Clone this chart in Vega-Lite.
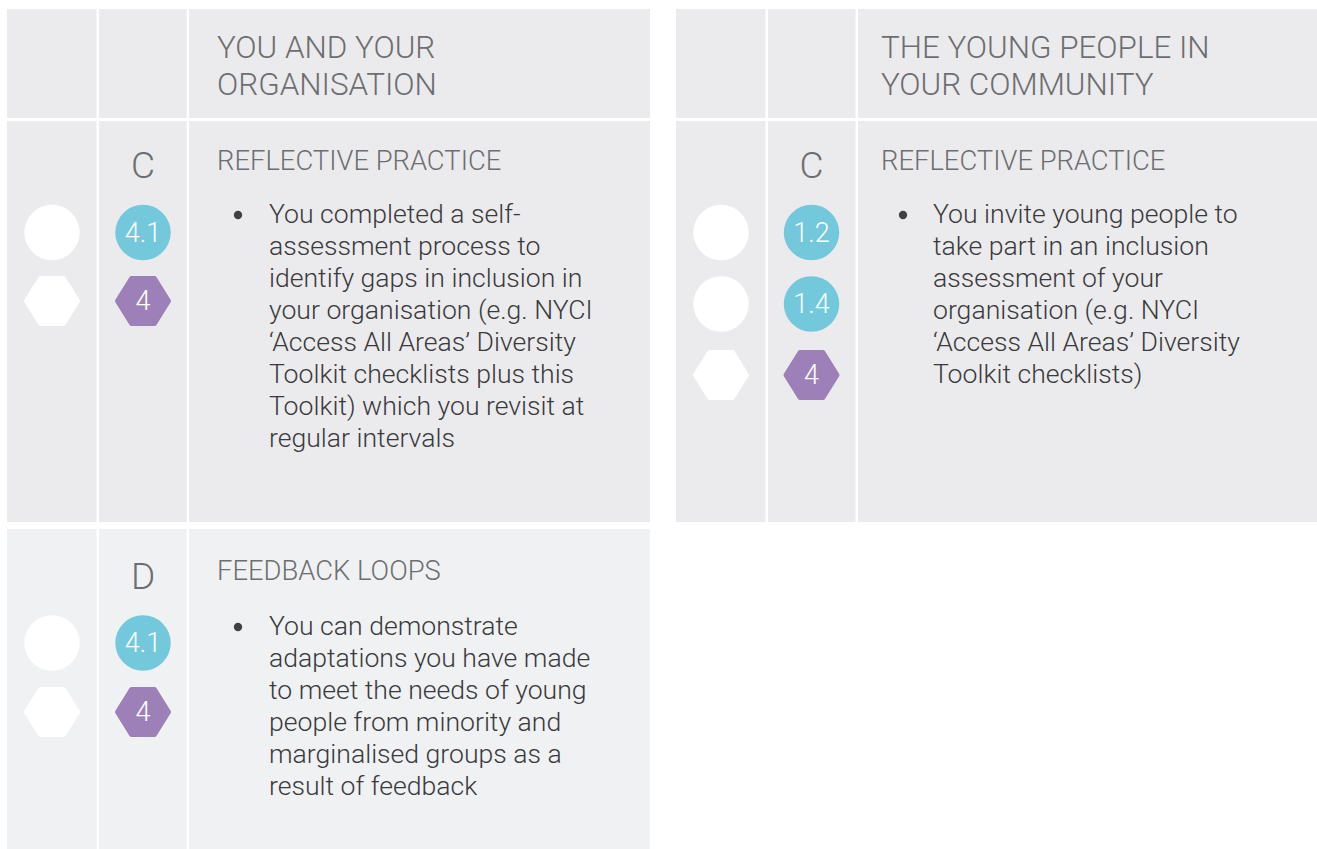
{
  "$schema": "https://vega.github.io/schema/vega-lite/v6.json",
  "width": 1317,
  "height": 849,
  "padding": 0,
  "autosize": {"type": "none"},
  "background": "#ffffff",
  "config": {"view": {"stroke": null}},
  "datasets": {
    "cells": [
      {"x0": 7, "x1": 96.5, "y0": 9, "y1": 118, "tone": "grey"},
      {"x0": 99, "x1": 186.7, "y0": 9, "y1": 118, "tone": "grey"},
      {"x0": 189, "x1": 650, "y0": 9, "y1": 118, "tone": "grey"},
      {"x0": 7, "x1": 96.5, "y0": 121, "y1": 522, "tone": "grey"},
      {"x0": 99, "x1": 186.7, "y0": 121, "y1": 522, "tone": "grey"},
      {"x0": 189, "x1": 650, "y0": 121, "y1": 522, "tone": "grey"},
      {"x0": 7, "x1": 96.5, "y0": 529, "y1": 849, "tone": "light"},
      {"x0": 99, "x1": 186.7, "y0": 529, "y1": 849, "tone": "light"},
      {"x0": 189, "x1": 650, "y0": 529, "y1": 849, "tone": "light"},
      {"x0": 676, "x1": 765.5, "y0": 9, "y1": 118, "tone": "grey"},
      {"x0": 768, "x1": 855.5, "y0": 9, "y1": 118, "tone": "grey"},
      {"x0": 858, "x1": 1317, "y0": 9, "y1": 118, "tone": "grey"},
      {"x0": 676, "x1": 765.5, "y0": 121, "y1": 522, "tone": "grey"},
      {"x0": 768, "x1": 855.5, "y0": 121, "y1": 522, "tone": "grey"},
      {"x0": 858, "x1": 1317, "y0": 121, "y1": 522, "tone": "grey"}
    ],
    "badges": [
      {"x": 52, "y": 232.5, "shape": "circle", "tone": "blank", "label": ""},
      {"x": 52, "y": 301, "shape": "hex", "tone": "blank", "label": ""},
      {"x": 143, "y": 232.5, "shape": "circle", "tone": "blue", "label": "4.1"},
      {"x": 143, "y": 301, "shape": "hex", "tone": "purple", "label": "4"},
      {"x": 52, "y": 643, "shape": "circle", "tone": "blank", "label": ""},
      {"x": 52, "y": 712, "shape": "hex", "tone": "blank", "label": ""},
      {"x": 143, "y": 643, "shape": "circle", "tone": "blue", "label": "4.1"},
      {"x": 143, "y": 712, "shape": "hex", "tone": "purple", "label": "4"},
      {"x": 721, "y": 232.5, "shape": "circle", "tone": "blank", "label": ""},
      {"x": 721, "y": 304, "shape": "circle", "tone": "blank", "label": ""},
      {"x": 721, "y": 375, "shape": "hex", "tone": "blank", "label": ""},
      {"x": 811.5, "y": 232.5, "shape": "circle", "tone": "blue", "label": "1.2"},
      {"x": 811.5, "y": 304, "shape": "circle", "tone": "blue", "label": "1.4"},
      {"x": 811.5, "y": 375, "shape": "hex", "tone": "purple", "label": "4"}
    ],
    "bullets": [
      {"x": 238, "y": 215},
      {"x": 903, "y": 215},
      {"x": 238, "y": 627}
    ],
    "texts": [
      {"x": 217, "y": 58, "text": "YOU AND YOUR", "style": "heading"},
      {"x": 217, "y": 95, "text": "ORGANISATION", "style": "heading"},
      {"x": 881, "y": 58, "text": "THE YOUNG PEOPLE IN", "style": "heading"},
      {"x": 881, "y": 95, "text": "YOUR COMMUNITY", "style": "heading"},
      {"x": 143, "y": 178, "text": "C", "style": "letter"},
      {"x": 811.5, "y": 178, "text": "C", "style": "letter"},
      {"x": 143, "y": 589, "text": "D", "style": "letter"},
      {"x": 217, "y": 170, "text": "REFLECTIVE PRACTICE", "style": "title"},
      {"x": 881, "y": 170, "text": "REFLECTIVE PRACTICE", "style": "title"},
      {"x": 217, "y": 580, "text": "FEEDBACK LOOPS", "style": "title"},
      {"x": 269, "y": 223, "text": "You completed a self-", "style": "body"},
      {"x": 269, "y": 255, "text": "assessment process to", "style": "body"},
      {"x": 269, "y": 287, "text": "identify gaps in inclusion in", "style": "body"},
      {"x": 269, "y": 319, "text": "your organisation (e.g. NYCI", "style": "body"},
      {"x": 269, "y": 351, "text": "‘Access All Areas’ Diversity", "style": "body"},
      {"x": 269, "y": 383, "text": "Toolkit checklists plus this", "style": "body"},
      {"x": 269, "y": 415, "text": "Toolkit) which you revisit at", "style": "body"},
      {"x": 269, "y": 447, "text": "regular intervals", "style": "body"},
      {"x": 933, "y": 223, "text": "You invite young people to", "style": "body"},
      {"x": 933, "y": 255, "text": "take part in an inclusion", "style": "body"},
      {"x": 933, "y": 287, "text": "assessment of your", "style": "body"},
      {"x": 933, "y": 319, "text": "organisation (e.g. NYCI", "style": "body"},
      {"x": 933, "y": 351, "text": "‘Access All Areas’ Diversity", "style": "body"},
      {"x": 933, "y": 383, "text": "Toolkit checklists)", "style": "body"},
      {"x": 269, "y": 635, "text": "You can demonstrate", "style": "body"},
      {"x": 269, "y": 667, "text": "adaptations you have made", "style": "body"},
      {"x": 269, "y": 699, "text": "to meet the needs of young", "style": "body"},
      {"x": 269, "y": 731, "text": "people from minority and", "style": "body"},
      {"x": 269, "y": 763, "text": "marginalised groups as a", "style": "body"},
      {"x": 269, "y": 795, "text": "result of feedback", "style": "body"}
    ]
  },
  "encoding": {
    "x": {"field": "x", "type": "quantitative", "scale": {"domain": [0, 1317], "nice": false, "zero": false}, "axis": null},
    "y": {"field": "y", "type": "quantitative", "scale": {"domain": [0, 849], "nice": false, "zero": false, "reverse": true}, "axis": null}
  },
  "layer": [
    {
      "data": {"name": "cells"},
      "mark": {"type": "rect"},
      "encoding": {
        "x": {"field": "x0", "type": "quantitative", "scale": {"domain": [0, 1317], "nice": false, "zero": false}, "axis": null},
        "x2": {"field": "x1"},
        "y": {"field": "y0", "type": "quantitative", "scale": {"domain": [0, 849], "nice": false, "zero": false, "reverse": true}, "axis": null},
        "y2": {"field": "y1"},
        "color": {"field": "tone", "type": "nominal", "scale": {"domain": ["grey", "light"], "range": ["#ebebed", "#f0f1f3"]}, "legend": null}
      }
    },
    {
      "data": {"name": "badges"},
      "transform": [{"filter": "datum.shape === 'circle'"}],
      "mark": {"type": "point", "shape": "circle", "filled": true, "opacity": 1, "fillOpacity": 1, "size": 3080, "strokeWidth": 0},
      "encoding": {
        "fill": {"field": "tone", "type": "nominal", "scale": {"domain": ["blank", "blue", "purple"], "range": ["#ffffff", "#74c8dc", "#9d80b7"]}, "legend": null}
      }
    },
    {
      "data": {"name": "badges"},
      "transform": [{"filter": "datum.shape === 'hex'"}],
      "mark": {"type": "point", "shape": "M-1,0L-0.45,-0.88L0.45,-0.88L1,0L0.45,0.88L-0.45,0.88Z", "filled": true, "opacity": 1, "fillOpacity": 1, "size": 2601, "strokeWidth": 5, "strokeJoin": "round", "strokeOpacity": 1},
      "encoding": {
        "fill": {"field": "tone", "type": "nominal", "scale": {"domain": ["blank", "blue", "purple"], "range": ["#ffffff", "#74c8dc", "#9d80b7"]}, "legend": null},
        "stroke": {"field": "tone", "type": "nominal", "scale": {"domain": ["blank", "blue", "purple"], "range": ["#ffffff", "#74c8dc", "#9d80b7"]}, "legend": null}
      }
    },
    {
      "data": {"name": "badges"},
      "transform": [{"filter": "datum.label !== ''"}],
      "mark": {"type": "text", "font": "Roboto", "fontWeight": 300, "fontSize": 27, "color": "#ffffff", "align": "center", "baseline": "middle", "dy": 1},
      "encoding": {"text": {"field": "label"}}
    },
    {
      "data": {"name": "bullets"},
      "mark": {"type": "point", "shape": "circle", "filled": true, "opacity": 1, "size": 70, "color": "#414042"}
    },
    {
      "data": {"name": "texts"},
      "transform": [{"filter": "datum.style === 'heading'"}],
      "mark": {"type": "text", "font": "Roboto", "fontWeight": 300, "fontSize": 31.4, "color": "#6d6e71", "align": "left", "baseline": "alphabetic"},
      "encoding": {"text": {"field": "text"}}
    },
    {
      "data": {"name": "texts"},
      "transform": [{"filter": "datum.style === 'letter'"}],
      "mark": {"type": "text", "font": "Roboto", "fontWeight": 300, "fontSize": 37, "color": "#6d6e71", "align": "center", "baseline": "alphabetic"},
      "encoding": {"text": {"field": "text"}}
    },
    {
      "data": {"name": "texts"},
      "transform": [{"filter": "datum.style === 'title'"}],
      "mark": {"type": "text", "font": "Roboto", "fontWeight": 300, "fontSize": 27.4, "color": "#6d6e71", "align": "left", "baseline": "alphabetic"},
      "encoding": {"text": {"field": "text"}}
    },
    {
      "data": {"name": "texts"},
      "transform": [{"filter": "datum.style === 'body'"}],
      "mark": {"type": "text", "font": "Roboto", "fontWeight": 300, "fontSize": 26.6, "color": "#3a3a3c", "align": "left", "baseline": "alphabetic"},
      "encoding": {"text": {"field": "text"}}
    }
  ]
}
